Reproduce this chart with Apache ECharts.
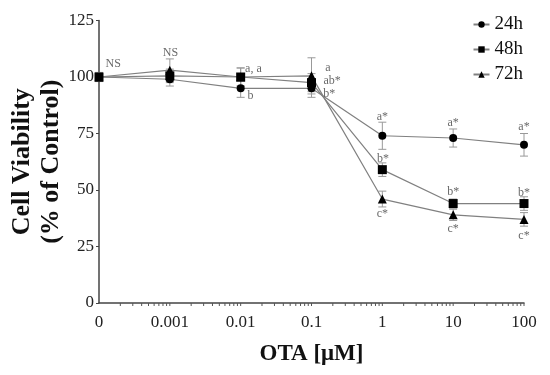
<!DOCTYPE html>
<html><head><meta charset="utf-8">
<script src="https://cdn.jsdelivr.net/npm/echarts@6/dist/echarts.min.js"></script>
<style>html,body{margin:0;padding:0;background:#fff}#c{width:550px;height:375px}</style>
</head><body><div id="c"></div>
<script>
var categories = ['0', '0.001', '0.01', '0.1', '1', '10', '100'];
var yTicks = [0, 25, 50, 75, 100, 125];
var v24 = [100, 99, 95, 95, 74, 73, 70];
var v48 = [100, 100.5, 100, 97.5, 59, 44, 44];
var v72 = [100, 103, 100, 100.5, 46, 39, 37];
var e24 = [2, 3, 4, 4, 6, 4, 5];
var e48 = [2, 3, 4, 4, 3, 2, 3];
var e72 = [2, 5, 4, 8, 3.5, 2.5, 3];
var seriesNames = ['24h', '48h', '72h'];
var annotations = [
  [0.2, 106, 'NS'], [1.01, 110.5, 'NS'],
  [2.18, 103.7, 'a, a'], [2.14, 91.6, 'b'],
  [3.23, 103.9, 'a'], [3.29, 98.5, 'ab*'], [3.25, 92.6, 'b*'],
  [4.0, 82.3, 'a*'], [4.01, 63.9, 'b*'], [4.0, 39.6, 'c*'],
  [5.0, 79.8, 'a*'], [5.0, 49.2, 'b*'], [5.0, 32.7, 'c*'],
  [6.0, 77.9, 'a*'], [6.0, 48.7, 'b*'], [6.0, 29.6, 'c*']
];

var serif = '"Liberation Serif", "DejaVu Serif", serif';
function pts(vals) { return vals.map(function (v, i) { return [i, v]; }); }
function errs(vals, e) { return vals.map(function (v, i) { return [i, v - e[i], v + e[i]]; }); }

var minorPos = [];
for (var d = 0; d < categories.length - 1; d++) {
  for (var k = 2; k <= 9; k++) minorPos.push([d + Math.log10(k), 0]);
}
for (var d2 = 1; d2 < categories.length; d2++) minorPos.push([d2, 0]);

function errRender(params, api) {
  var x = api.value(0);
  var lo = api.coord([x, api.value(1)]);
  var hi = api.coord([x, api.value(2)]);
  var w = 4;
  var st = { stroke: '#999', lineWidth: 1 };
  return { type: 'group', children: [
    { type: 'line', shape: { x1: lo[0], y1: lo[1], x2: hi[0], y2: hi[1] }, style: st },
    { type: 'line', shape: { x1: lo[0] - w, y1: lo[1], x2: lo[0] + w, y2: lo[1] }, style: st },
    { type: 'line', shape: { x1: hi[0] - w, y1: hi[1], x2: hi[0] + w, y2: hi[1] }, style: st }
  ]};
}
function tickRender(params, api) {
  var p = api.coord([api.value(0), 0]);
  return { type: 'line', shape: { x1: p[0], y1: p[1], x2: p[0], y2: p[1] + 3 }, style: { stroke: '#555', lineWidth: 1 } };
}

var symbols = ['circle', 'rect', 'triangle'];
var sizes = [8, 9, 9];
var vals = [v24, v48, v72];
var errsArr = [e24, e48, e72];
var series = [];
for (var i = 0; i < 3; i++) {
  series.push({
    type: 'custom', renderItem: errRender, data: errs(vals[i], errsArr[i]),
    z: 1, silent: true, clip: false
  });
}
for (var j = 0; j < 3; j++) {
  series.push({
    name: seriesNames[j], type: 'line', data: pts(vals[j]),
    symbol: symbols[j], symbolSize: sizes[j], showSymbol: true,
    lineStyle: { color: '#808080', width: 1.2 },
    itemStyle: { color: '#000' },
    z: 3, clip: false, animation: false
  });
}
series.push({
  type: 'custom', renderItem: tickRender, data: minorPos, silent: true, clip: false, z: 2
});
series.push({
  type: 'scatter', symbolSize: 1, itemStyle: { color: 'rgba(0,0,0,0)' },
  data: annotations.map(function (a) { return { value: [a[0], a[1]], name: a[2] }; }),
  label: { show: true, position: 'inside', formatter: function (p) { return p.name; },
    fontFamily: serif, fontSize: 12, color: '#444' },
  silent: true, clip: false, z: 4
});

var chart = echarts.init(document.getElementById('c'), null, { renderer: 'canvas' });
chart.setOption({
  animation: false,
  backgroundColor: '#fff',
  grid: { left: 99, right: 26, top: 20.5, bottom: 72, containLabel: false, outerBoundsMode: 'none' },
  legend: {
    data: seriesNames, orient: 'vertical', right: 22, top: 10, itemGap: 6,
    itemWidth: 16, itemHeight: 8,
    textStyle: { fontFamily: serif, fontSize: 19, color: '#111' }
  },
  xAxis: {
    type: 'value', min: 0, max: 6, interval: 1,
    axisLine: { show: true, onZero: false, lineStyle: { color: '#444', width: 1.5 } },
    axisTick: { show: false },
    splitLine: { show: false },
    axisLabel: { fontFamily: serif, fontSize: 17, color: '#222', margin: 11,
      formatter: function (v) { return categories[v]; } },
    name: 'OTA [μM]', nameLocation: 'middle', nameGap: 40, nameMoveOverlap: false,
    nameTextStyle: { fontFamily: serif, fontSize: 23, fontWeight: 'bold', color: '#111' }
  },
  yAxis: {
    type: 'value', min: yTicks[0], max: yTicks[yTicks.length - 1], interval: 25,
    axisLine: { show: true, lineStyle: { color: '#444', width: 1.5 } },
    axisTick: { show: true, length: 3, lineStyle: { color: '#444' } },
    splitLine: { show: false },
    axisLabel: { fontFamily: serif, fontSize: 17, color: '#222', margin: 5 },
    name: 'Cell Viability\n(% of Control)', nameLocation: 'middle', nameGap: 33, nameRotate: 90,
    nameMoveOverlap: false,
    nameTextStyle: { fontFamily: serif, fontSize: 26, fontWeight: 'bold', color: '#111', lineHeight: 29 }
  },
  series: series
});
</script></body></html>
